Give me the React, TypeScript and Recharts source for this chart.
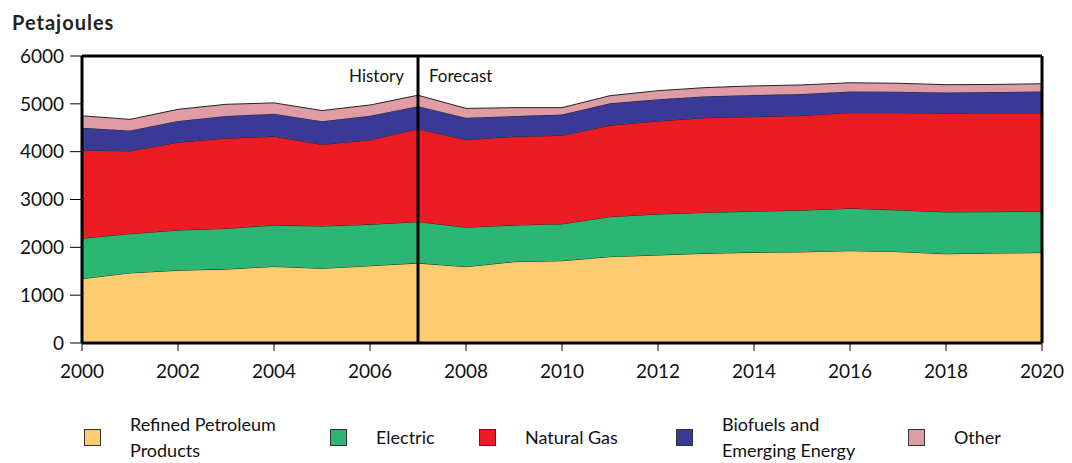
import React from "react";
import { AreaChart, Area, XAxis, YAxis, ReferenceLine } from "recharts";

const years = [2000, 2001, 2002, 2003, 2004, 2005, 2006, 2007, 2008, 2009, 2010, 2011, 2012, 2013, 2014, 2015, 2016, 2017, 2018, 2019, 2020];
const petroleum = [1345, 1465, 1520, 1545, 1600, 1560, 1615, 1670, 1595, 1700, 1720, 1805, 1840, 1875, 1895, 1905, 1930, 1910, 1865, 1880, 1890];
const electric = [845, 820, 840, 850, 865, 885, 865, 865, 825, 765, 770, 835, 855, 855, 860, 870, 885, 870, 875, 865, 865];
const naturalGas = [1840, 1730, 1835, 1885, 1855, 1705, 1765, 1940, 1830, 1850, 1850, 1910, 1945, 1980, 1975, 1980, 2000, 2035, 2060, 2065, 2055];
const biofuels = [470, 430, 445, 465, 475, 485, 505, 475, 460, 430, 435, 460, 455, 450, 455, 450, 445, 440, 435, 435, 450];
const other = [250, 230, 245, 245, 225, 225, 225, 230, 195, 175, 145, 160, 180, 180, 190, 190, 180, 175, 165, 160, 160];

const xTicks = [2000, 2002, 2004, 2006, 2008, 2010, 2012, 2014, 2016, 2018, 2020];
const yTicks = [0, 1000, 2000, 3000, 4000, 5000, 6000];

const series = [
  { key: "petroleum", label: ["Refined Petroleum", "Products"], color: "#FDCC70" },
  { key: "electric", label: ["Electric"], color: "#2BB673" },
  { key: "gas", label: ["Natural Gas"], color: "#ED1C24" },
  { key: "bio", label: ["Biofuels and", "Emerging Energy"], color: "#383A96" },
  { key: "other", label: ["Other"], color: "#E09CA5" },
];

const data = years.map((year, i) => ({
  year,
  petroleum: petroleum[i],
  electric: electric[i],
  gas: naturalGas[i],
  bio: biofuels[i],
  other: other[i],
}));

const font = "Lato, 'Open Sans', sans-serif";

// History / Forecast labels on either side of the 2007 divider
const DividerLabel = (props: any) => {
  const { viewBox } = props;
  const x = viewBox.x;
  const y = viewBox.y + 26;
  return (
    <g style={{ fontFamily: font, fontSize: 17, fill: "#111" }}>
      <text x={x - 14} y={y} textAnchor="end">History</text>
      <text x={x + 11} y={y} textAnchor="start">Forecast</text>
    </g>
  );
};

export default function App() {
  const legendX = [84, 330, 479, 676, 908];
  return (
    <div style={{ position: "fixed", left: 0, top: 0, width: 1072, height: 463, background: "#fff", fontFamily: font }}>
      <div style={{ position: "absolute", left: 12, top: 10, fontSize: 20, fontWeight: 700, letterSpacing: 1, color: "#222" }}>Petajoules</div>
      <div style={{ position: "absolute", left: 0, top: 0 }}>
        <AreaChart width={1072} height={400} data={data} margin={{ top: 56, right: 30, left: 0, bottom: 17 }}>
          <XAxis
            dataKey="year"
            type="number"
            domain={[2000, 2020]}
            ticks={xTicks}
            tickSize={8}
            tickMargin={14}
            height={40}
            axisLine={{ stroke: "#000", strokeWidth: 3 }}
            tickLine={{ stroke: "#000", strokeWidth: 1 }}
            tick={{ fill: "#111", fontSize: 19, fontFamily: font }}
          />
          <YAxis
            domain={[0, 6000]}
            ticks={yTicks}
            width={82}
            tickSize={12}
            tickMargin={6}
            axisLine={{ stroke: "#000", strokeWidth: 3 }}
            tickLine={{ stroke: "#000", strokeWidth: 1 }}
            tick={{ fill: "#111", fontSize: 19, fontFamily: font }}
          />
          {series.map((s) => (
            <Area
              key={s.key}
              type="linear"
              dataKey={s.key}
              stackId="1"
              fill={s.color}
              fillOpacity={1}
              stroke="#222"
              strokeWidth={1}
              isAnimationActive={false}
            />
          ))}
          <ReferenceLine y={6000} stroke="#000" strokeWidth={3} />
          <ReferenceLine x={2020} stroke="#000" strokeWidth={3} />
          <ReferenceLine x={2007} stroke="#000" strokeWidth={3} label={<DividerLabel />} />
        </AreaChart>
      </div>
      {series.map((s, i) => (
        <div key={s.key} style={{ position: "absolute", left: legendX[i], top: 412, height: 50, display: "flex", alignItems: "center" }}>
          <div style={{ width: 17, height: 17, background: s.color, border: "1px solid #333", boxSizing: "border-box" }} />
          <div style={{ marginLeft: 29, fontSize: 18, lineHeight: "26px", color: "#111" }}>
            {s.label.map((l) => (
              <div key={l}>{l}</div>
            ))}
          </div>
        </div>
      ))}
    </div>
  );
}
